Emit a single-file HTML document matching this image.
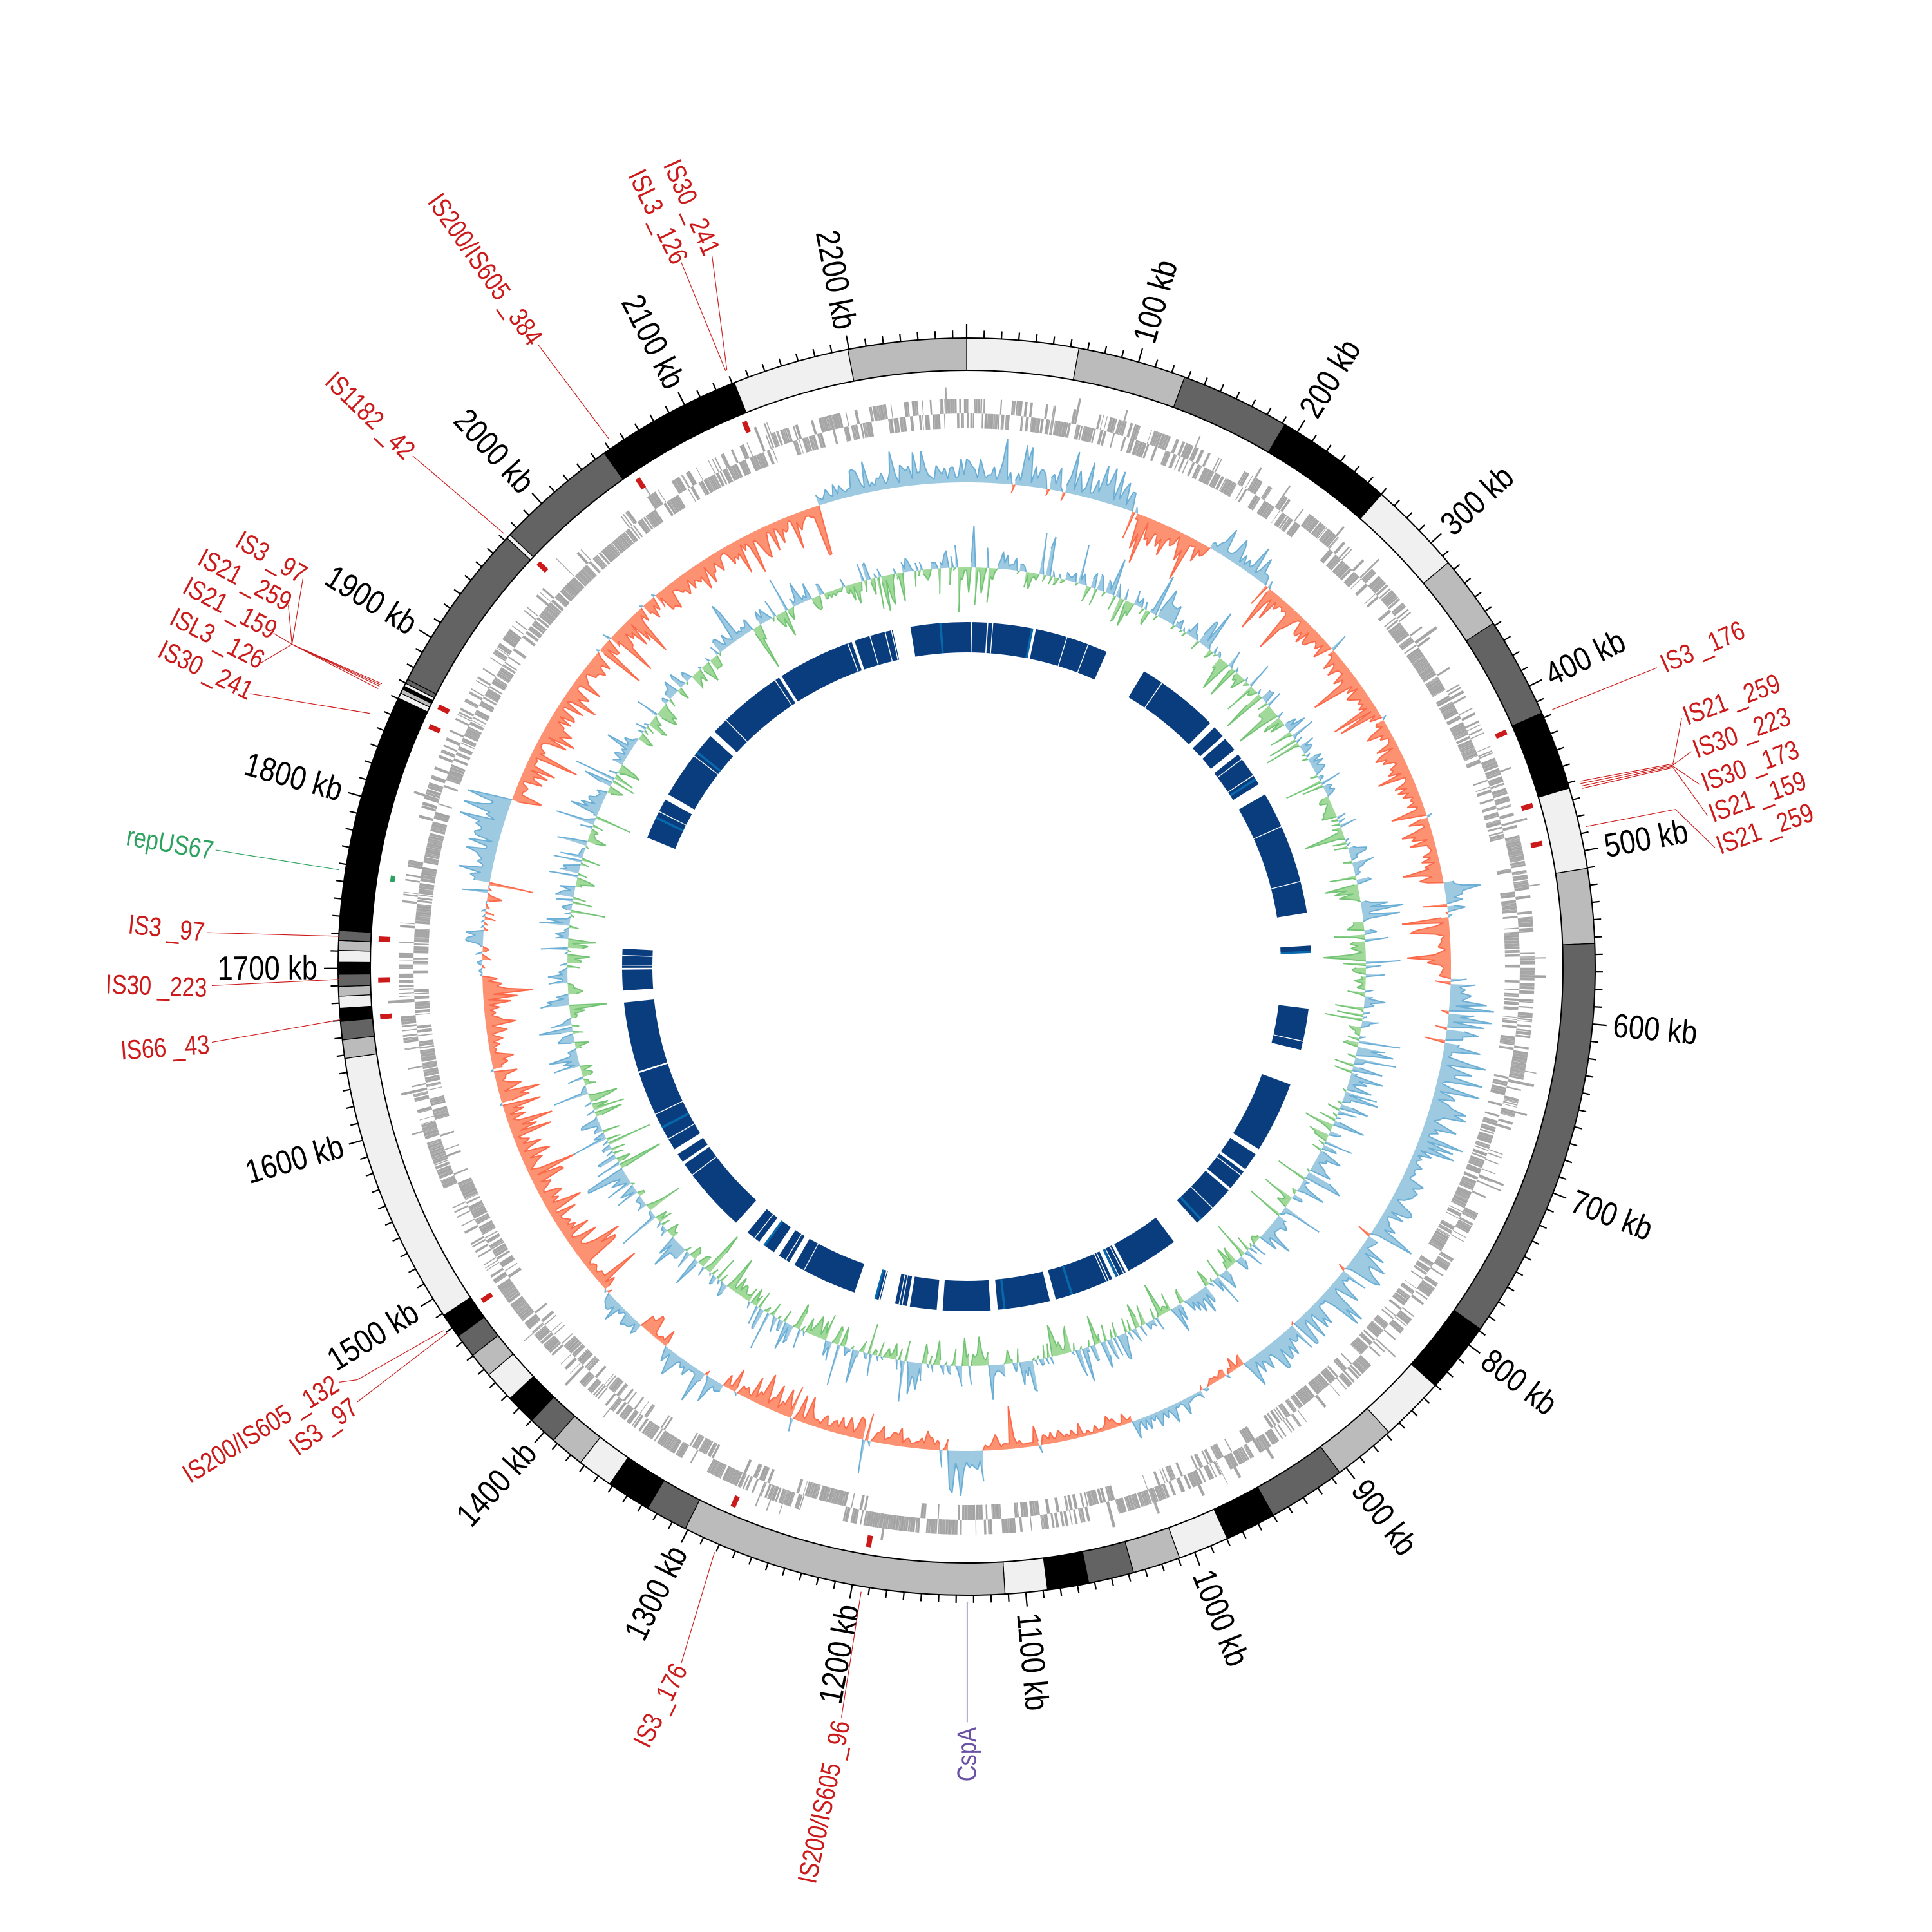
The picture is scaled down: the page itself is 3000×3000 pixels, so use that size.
<!DOCTYPE html>
<html><head><meta charset="utf-8"><style>
html,body{margin:0;padding:0;background:#fff;}
svg{display:block;}
text{font-family:"Liberation Sans Narrow","Liberation Sans",sans-serif;}
</style></head><body>
<svg id="s" xmlns="http://www.w3.org/2000/svg" width="3000" height="3000" viewBox="0 0 3000 3000">
<rect width="3000" height="3000" fill="#fff"/>
<g id="tracks"></g>
<g id="ring"></g>
<g id="ticks" font-size="52" fill="#000"></g>
<g id="labels" transform="scale(1.913)" font-size="22">
<g fill="none" stroke="#cc1a1a" stroke-width="0.6">
<polyline points="1260,576 1345,542"/>
<polyline points="1283,634 1358,620 1365,583"/>
<polyline points="1283,636 1358,621 1373,610"/>
<polyline points="1284,638 1358,622 1380,637"/>
<polyline points="1284,640 1358,623 1386,662"/>
<polyline points="1287,671 1360,657 1392,688"/>
<polyline points="590,300 578,208"/>
<polyline points="589,301 553,213"/>
<polyline points="494,356 437,280"/>
<polyline points="409,433 335,370"/>
<polyline points="310,555 237,523 246,469"/>
<polyline points="309,556 237,523 234,491"/>
<polyline points="308,557 237,523 222,514"/>
<polyline points="307,559 237,523 212,538"/>
<polyline points="300,579 203,563"/>
<polyline points="275,760 168,757"/>
<polyline points="275,795 172,800"/>
<polyline points="275,828 172,846"/>
<polyline points="360,1080 290,1120 275,1122"/>
<polyline points="363,1082 290,1138"/>
<polyline points="580,1260 553,1350"/>
<polyline points="699,1292 683,1394"/>
</g>
<polyline points="275,706 175,690" fill="none" stroke="#2ca25f" stroke-width="0.6"/>
<polyline points="785,1300 785,1398" fill="none" stroke="#6a51a3" stroke-width="0.8"/>
<g fill="#cc1a1a" dominant-baseline="central">
<text transform="translate(1349,540) rotate(-24) scale(0.82,1)">IS3 _176</text>
<text transform="translate(1367,582) rotate(-20) scale(0.82,1)">IS21 _259</text>
<text transform="translate(1375,609) rotate(-20) scale(0.82,1)">IS30 _223</text>
<text transform="translate(1382,636) rotate(-20) scale(0.82,1)">IS30 _173</text>
<text transform="translate(1388,661) rotate(-20) scale(0.82,1)">IS21 _159</text>
<text transform="translate(1394,687) rotate(-20) scale(0.82,1)">IS21 _259</text>
<text text-anchor="end" transform="translate(578,206) rotate(66) scale(0.82,1)">IS30 _241</text>
<text text-anchor="end" transform="translate(552,213) rotate(64) scale(0.82,1)">ISL3 _126</text>
<text text-anchor="end" transform="translate(435,278) rotate(55) scale(0.82,1)">IS200/IS605 _384</text>
<text text-anchor="end" transform="translate(333,369) rotate(44) scale(0.82,1)">IS1182 _42</text>
<text text-anchor="end" transform="translate(247,468) rotate(30) scale(0.82,1)">IS3 _97</text>
<text text-anchor="end" transform="translate(235,490) rotate(28) scale(0.82,1)">IS21 _259</text>
<text text-anchor="end" transform="translate(223,513) rotate(28) scale(0.82,1)">IS21 _159</text>
<text text-anchor="end" transform="translate(213,537) rotate(27) scale(0.82,1)">ISL3 _126</text>
<text text-anchor="end" transform="translate(204,562) rotate(26) scale(0.82,1)">IS30 _241</text>
<text text-anchor="end" transform="translate(166,757) rotate(6) scale(0.82,1)">IS3 _97</text>
<text text-anchor="end" transform="translate(168,802) rotate(2) scale(0.82,1)">IS30 _223</text>
<text text-anchor="end" transform="translate(170,848) rotate(-4) scale(0.82,1)">IS66 _43</text>
<text text-anchor="end" transform="translate(273,1122) rotate(-32) scale(0.82,1)">IS200/IS605 _132</text>
<text text-anchor="end" transform="translate(288,1140) rotate(-36) scale(0.82,1)">IS3 _97</text>
<text text-anchor="end" transform="translate(552,1352) rotate(-64) scale(0.82,1)">IS3 _176</text>
<text text-anchor="end" transform="translate(683,1397) rotate(-78) scale(0.82,1)">IS200/IS605 _96</text>
</g>
<text fill="#2ca25f" dominant-baseline="central" text-anchor="end" transform="translate(173,691) rotate(10) scale(0.82,1)">repUS67</text>
<text fill="#6a51a3" dominant-baseline="central" text-anchor="end" transform="translate(785,1402) rotate(-90) scale(0.82,1)">CspA</text>
</g>
</svg>
<script>
(function(){
var NS="http://www.w3.org/2000/svg",cx=1501,cy=1501,L=2268;
function P(r,a){var t=a*Math.PI/180;return [cx+r*Math.sin(t),cy-r*Math.cos(t)];}
function f(n){return n.toFixed(1);}
function sec(r0,r1,a0,a1){var p0=P(r1,a0),p1=P(r1,a1),p2=P(r0,a1),p3=P(r0,a0),lg=(a1-a0)>180?1:0;
return "M"+f(p0[0])+" "+f(p0[1])+"A"+r1+" "+r1+" 0 "+lg+" 1 "+f(p1[0])+" "+f(p1[1])+"L"+f(p2[0])+" "+f(p2[1])+"A"+r0+" "+r0+" 0 "+lg+" 0 "+f(p3[0])+" "+f(p3[1])+"Z";}
function add(g,tag,at){var e=document.createElementNS(NS,tag);for(var k in at)e.setAttribute(k,at[k]);g.appendChild(e);return e;}
var s=1;function rnd(){s|=0;s=s+0x6D2B79F5|0;var t=Math.imul(s^s>>>15,1|s);t=t+Math.imul(t^t>>>7,61|t)^t;return((t^t>>>14)>>>0)/4294967296;}
var T=document.getElementById("tracks"),R=document.getElementById("ring"),TK=document.getElementById("ticks");
var C={L:"#f0f0f0",G:"#bbbbbb",D:"#636363",B:"#000000"};
var bands=[[0,10.3,"L"],[10.3,20.3,"G"],[20.3,30.4,"D"],[30.4,41.3,"B"],[41.3,50,"L"],[50,56.9,"G"],[56.9,66.2,"D"],[66.2,73.5,"B"],[73.5,81,"L"],[81,87.9,"G"],[87.9,125.2,"D"],[125.2,131.8,"B"],[131.8,137.8,"L"],[137.8,143.6,"G"],[143.6,150.8,"D"],[150.8,155.5,"B"],[155.5,160.2,"L"],[160.2,164.6,"G"],[164.6,168.8,"D"],[168.8,172.6,"B"],[172.6,176.5,"L"],[176.5,206.6,"G"],[206.6,210.5,"D"],[210.5,214.6,"B"],[214.6,217.9,"L"],[217.9,221.1,"G"],[221.1,223.8,"D"],[223.8,226.6,"B"],[226.6,229.5,"L"],[229.5,231.8,"G"],[231.8,234,"D"],[234,236.3,"B"],[236.3,261.6,"L"],[261.6,263.3,"G"],[263.3,265,"D"],[265,266.2,"B"],[266.2,267.3,"L"],[267.3,268.2,"G"],[268.2,269.3,"D"],[269.3,270.4,"B"],[270.4,271.5,"L"],[271.5,272.4,"G"],[272.4,273.3,"D"],[273.3,295.3,"B"],[295.3,295.8,"L"],[295.8,296.2,"G"],[296.2,296.5,"B"],[296.5,296.8,"L"],[296.8,297.2,"D"],[297.2,313,"D"],[313,313.4,"L"],[313.4,324.8,"D"],[324.8,338.3,"B"],[338.3,349.1,"L"],[349.1,360,"G"]];
bands.forEach(function(b){add(R,"path",{d:sec(926,976,b[0],b[1]),fill:C[b[2]],stroke:"#000","stroke-width":"1.3"});});
add(R,"circle",{cx:cx,cy:cy,r:976,fill:"none",stroke:"#000","stroke-width":"2"});
add(R,"circle",{cx:cx,cy:cy,r:926,fill:"none",stroke:"#000","stroke-width":"2"});
var tp="";for(var k=0;k<L;k+=10){var a=k/L*360,maj=k%100==0,p0=P(976,a),p1=P(maj?998:988,a);tp+="M"+f(p0[0])+" "+f(p0[1])+"L"+f(p1[0])+" "+f(p1[1]);
if(maj&&k>0){var q=P(1008,a),tx=add(TK,"text",{"dominant-baseline":"central"});tx.textContent=(k)+" kb";
if(a<180){tx.setAttribute("text-anchor","start");tx.setAttribute("transform","translate("+f(q[0])+","+f(q[1])+") rotate("+f(a-90)+") scale(0.84,1)");}
else{tx.setAttribute("text-anchor","end");tx.setAttribute("transform","translate("+f(q[0])+","+f(q[1])+") rotate("+f(a-270)+") scale(0.84,1)");}}}
add(R,"path",{d:tp,stroke:"#000","stroke-width":"2.2",fill:"none"});
// genes (dense)
var gp="",gd="";
var pos=0,run=1,cnt=0;while(pos<L){if(cnt--<=0){run=rnd()<0.5;cnt=2+Math.floor(rnd()*12);}
var len=0.4+rnd()*1.6,gap=rnd()<0.85?0.02+rnd()*0.08:rnd()*1.2;var a0=pos/L*360,a1=(pos+len)/L*360;
var st=rnd()<0.8?run:!run;var r0=st?859:836,r1=st?882:859;
if(rnd()<0.05)r1=st?900:882;
gp+=sec(r0,r1,a0,a1);if(rnd()<0.3)gd+=sec(r0,r1,a0+(a1-a0)*0.5,a0+(a1-a0)*0.56);pos+=len+gap;}
add(T,"path",{d:gp,fill:"#a6a6a6"});add(T,"path",{d:gd,fill:"#8f8f8f"});
[337.8,326,313.3,294.1,296.2,272.7,268.7,265.1,235.4,203.4,189.6,66.5,74.1,77.9].forEach(function(a){add(T,"path",{d:sec(896,914,a-0.25,a+0.25),fill:"#cc1a1a"});});
add(T,"path",{d:sec(898,905,278.4,279),fill:"#2ca25f"});
var N=1134,st=360/N;
function area(vals,base,cp,cn,lp,ln){var fp="",fn="",sp="",sn="";
for(var i=0;i<N;i++){var a0=i*st,a1=(i+1)*st,v=vals[i],v1=vals[(i+1)%N];if((v>=0)!=(v1>=0))v1=0;
var b0=P(base,a0),b1=P(base,a1),q0=P(base+v,a0),q1=P(base+v1,a1);
var d="M"+f(b0[0])+" "+f(b0[1])+"L"+f(q0[0])+" "+f(q0[1])+"L"+f(q1[0])+" "+f(q1[1])+"L"+f(b1[0])+" "+f(b1[1])+"Z";
var seg="M"+f(q0[0])+" "+f(q0[1])+"L"+f(q1[0])+" "+f(q1[1]);
if(v>=0){fp+=d;sp+=seg;}else{fn+=d;sn+=seg;}}
add(T,"path",{d:fp,fill:cp});add(T,"path",{d:fn,fill:cn});
add(T,"path",{d:sp,fill:"none",stroke:lp,"stroke-width":"2"});add(T,"path",{d:sn,fill:"none",stroke:ln,"stroke-width":"2"});}
var reg=[[-18,20,1,28],[20,30,-1,28],[30,38,1,28],[38,80,-1,34],[80,84,1,20],[84,92,-1,32],[92,145,1,36],[145,150,-1,18],[150,160,1,20],[160,168,-1,15],[168,178,-1,20],[178,183,1,40],[183,210,-1,26],[210,218,1,25],[218,222,-1,18],[222,228,1,20],[228,268,-1,30],[268,280,0,25],[280,290,1,45],[290,342,-1,34]];
function gr0(a){if(a>342)a-=360;for(var j=0;j<reg.length;j++)if(a>=reg[j][0]&&a<reg[j][1])return reg[j];return [0,0,0,20];}
var gc=[];for(var i=0;i<N;i++){var a=i*st,r=gr0(a),e=-Math.log(rnd()+1e-6),v;
if(r[2]==0)v=(rnd()-0.5)*2*r[3]*e;else{v=r[2]*r[3]*(0.2+0.8*e*(0.4+rnd()*0.6));if(rnd()<0.03)v=-v*0.5;}
v=Math.max(-78,Math.min(70,v));gc.push(v);}
area(gc,752,"#9ecae1","#fc9272","#6baed6","#fb6a4a");
var sk=[],sg=1;for(var i=0;i<N;i++){var a=i*st;if(rnd()<0.18)sg=-sg;var bias=(a<30||a>330||(a>150&&a<210))?-0.3:0.3;
var sgn=(rnd()<0.5+bias*0.5)?1:-1;if(rnd()<0.6)sgn=sg;var e=-Math.log(rnd()+1e-6);var v=sgn*(4+e*16);v=Math.max(-70,Math.min(65,v));sk.push(v);}
area(sk,620,"#9ecae1","#a1d99b","#6baed6","#74c476");
var bl=[[-13.6,-12.4],[-9.4,3.4],[3.6,11],[11.6,24],[31,45],[46,48],[48.6,51],[52,58],[60,81],[86.5,87.5],[97,104],[110,122],[123,126],[126.5,130],[130.5,138],[143,152],[152.5,154],[155,165],[166,174.8],[176,184],[185,189.5],[190,192],[194.5,195.5],[199,210],[211,213],[214,216],[217,219.5],[222,235],[235.5,237],[238,252],[252.3,264],[266,269.5],[269.8,273],[292,299],[300,312],[313,327],[327.5,340.5],[341,346.5]];
var bp="",wl="",lb="";bl.forEach(function(b){bp+=sec(488,535,b[0],b[1]);var w=b[1]-b[0];
var n=Math.floor(rnd()*3);for(var j=0;j<n;j++){var x=b[0]+rnd()*w;wl+=sec(488,535,x,x+0.15);}
if(rnd()<0.3){var x=b[0]+rnd()*w;lb+=sec(488,535,x,x+0.4);}});
add(T,"path",{d:bp,fill:"#0a3d7e"});add(T,"path",{d:lb,fill:"#0868ac"});add(T,"path",{d:wl,fill:"#fff"});
})();
</script>
</body></html>
